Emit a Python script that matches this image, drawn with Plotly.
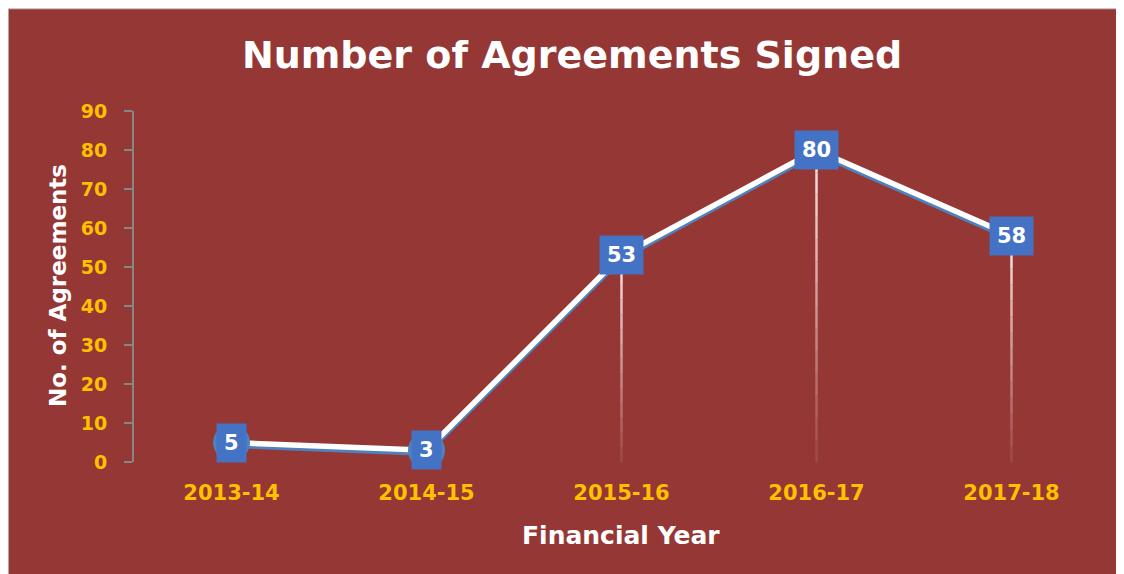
import plotly.graph_objects as go

years = ["2013-14", "2014-15", "2015-16", "2016-17", "2017-18"]
agreements = [5, 3, 53, 80, 58]
y_ticks = [0, 10, 20, 30, 40, 50, 60, 70, 80, 90]

BG = "#953735"
GOLD = "#FFC000"
BOX = "#4472C4"
MARK = "#4F81BD"
AXIS = "#868686"

fig = go.Figure()

# fading drop lines under each point
steps = 14
for yr, v in zip(years, agreements):
    for i in range(steps):
        top = v * (1 - i / steps)
        bot = v * (1 - (i + 1) / steps)
        alpha = 0.9 * (1 - i / steps) + 0.05
        fig.add_trace(go.Scatter(
            x=[yr, yr], y=[top, bot], mode="lines",
            line=dict(color=f"rgba(255,235,235,{alpha:.2f})", width=2.5),
            hoverinfo="skip", showlegend=False,
        ))

# blue shadow, then the white line on top
fig.add_trace(go.Scatter(
    x=years, y=[v - 0.8 for v in agreements], mode="lines",
    line=dict(color=MARK, width=5), hoverinfo="skip", showlegend=False,
))
fig.add_trace(go.Scatter(
    x=years, y=agreements, mode="lines+markers",
    line=dict(color="white", width=5.5),
    marker=dict(size=37, color=MARK, line=dict(width=0)),
    showlegend=False,
))

for yr, v in zip(years, agreements):
    fig.add_annotation(
        x=yr, y=v, text=f"<b>{v}</b>", showarrow=False,
        font=dict(family="DejaVu Sans", size=21, color="white"),
        bgcolor=BOX, borderpad=7, xanchor="center", yanchor="middle",
    )

# thin grey frame round the chart area (only top and left edges show)
fig.add_shape(
    type="rect", xref="paper", yref="paper",
    x0=-126 / 975, x1=1.3, y0=-1.0, y1=(462 - 8.5) / 351,
    fillcolor="rgba(0,0,0,0)", line=dict(color="#c8c8c8", width=1.5),
    layer="below",
)

fig.add_annotation(
    x=(58 - 134) / 975, y=(462 - 286) / 351, xref="paper", yref="paper",
    text="<b>No. of Agreements</b>", textangle=-90, showarrow=False,
    font=dict(family="DejaVu Sans", size=23, color="white"),
    xanchor="center", yanchor="middle",
)
fig.add_annotation(
    x=(621 - 134) / 975, y=(462 - 535) / 351, xref="paper", yref="paper",
    text="<b>Financial Year</b>", showarrow=False,
    font=dict(family="DejaVu Sans", size=25, color="white"),
    xanchor="center", yanchor="middle",
)

fig.update_layout(
    width=1116, height=566,
    margin=dict(l=126, r=15, t=103, b=112),
    paper_bgcolor=BG,
    plot_bgcolor=BG,
    title=dict(
        text="<b>Number of Agreements Signed</b>",
        x=564 / 1116, y=1 - 47 / 566, xref="container", yref="container",
        xanchor="center", yanchor="middle",
        font=dict(family="DejaVu Sans", size=38, color="white"),
    ),
    xaxis=dict(
        type="category", range=[-0.5, 4.5], showgrid=False, zeroline=False,
        showline=False, ticks="", ticklabelstandoff=16,
        tickfont=dict(family="DejaVu Sans", size=21, color=GOLD, weight="bold"),
    ),
    yaxis=dict(
        range=[0, 90], tickvals=y_ticks, showgrid=False, zeroline=False,
        showline=True, linecolor=AXIS, linewidth=2,
        ticks="outside", ticklen=8, tickwidth=2, tickcolor=AXIS,
        ticklabelstandoff=13,
        tickfont=dict(family="DejaVu Sans", size=19, color=GOLD, weight="bold"),
    ),
)

fig.write_html("out.html")
